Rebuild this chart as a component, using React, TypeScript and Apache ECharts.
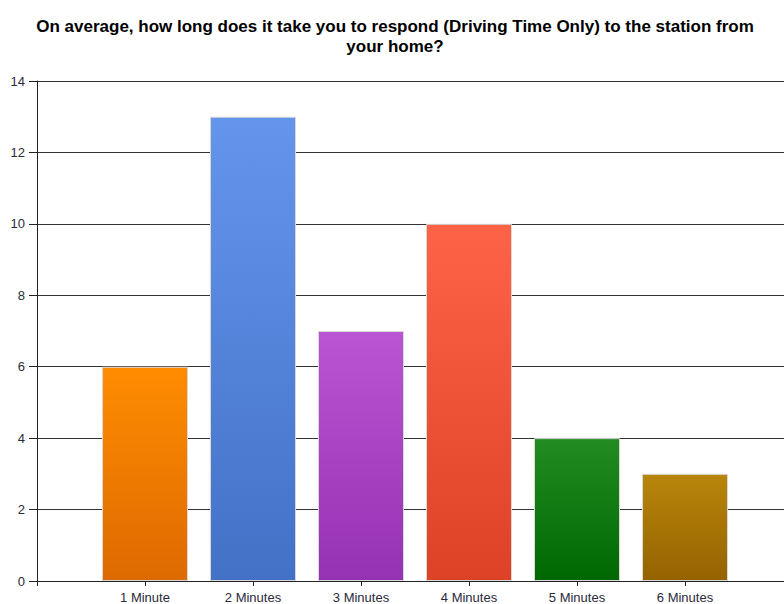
import React, { useEffect, useRef } from "react";
import * as echarts from "echarts";

const categories = ["1 Minute", "2 Minutes", "3 Minutes", "4 Minutes", "5 Minutes", "6 Minutes"];
const values = [6, 13, 7, 10, 4, 3];
const topColors = ["#FF8C00", "#6495ED", "#BA55D3", "#FF6347", "#228B22", "#B8860B"];
const bottomColors = ["#DD6A00", "#4371C6", "#9531B3", "#DD4226", "#006800", "#966200"];
const yTicks = { min: 0, max: 14, interval: 2 };
const titleText = "On average, how long does it take you to respond (Driving Time Only) to the station from\nyour home?";

export default function App() {
  const ref = useRef<HTMLDivElement>(null);
  useEffect(() => {
    if (!ref.current) return;
    const chart = echarts.init(ref.current, null, { renderer: "svg" });
    chart.setOption({
      animation: false,
      title: {
        text: titleText,
        left: 390,
        textAlign: "center",
        top: 11,
        textStyle: { fontFamily: "Liberation Sans", fontSize: 17, fontWeight: "bold", color: "#000", lineHeight: 20 },
      },
      grid: { left: 37, top: 81, right: 0, bottom: 23, containLabel: false },
      xAxis: {
        type: "value",
        min: 0,
        max: 747 / 108,
        interval: 1,
        axisLine: { show: true, lineStyle: { color: "#222", width: 1 } },
        axisTick: { show: true, length: 5, lineStyle: { color: "#222" } },
        splitLine: { show: false },
        axisLabel: {
          margin: 10,
          color: "#2a2a3a",
          fontFamily: "Liberation Sans",
          fontSize: 13,
          showMaxLabel: false,
          formatter: (v: number) => {
            const i = Math.round(v);
            return Math.abs(v - i) < 1e-6 && i >= 1 && i <= categories.length ? categories[i - 1] : "";
          },
        },
      },
      yAxis: {
        type: "value",
        min: yTicks.min,
        max: yTicks.max,
        interval: yTicks.interval,
        axisLine: { show: true, lineStyle: { color: "#222", width: 1 } },
        axisTick: { show: true, length: 8, lineStyle: { color: "#222" } },
        splitLine: { show: true, lineStyle: { color: "#333", width: 1 } },
        axisLabel: { margin: 12, color: "#2a2a3a", fontFamily: "Liberation Sans", fontSize: 13 },
      },
      series: [
        {
          type: "bar",
          barWidth: 86,
          data: values.map((v, i) => ({
            value: [i + 1, v],
            itemStyle: {
              color: new echarts.graphic.LinearGradient(0, 0, 0, 1, [
                { offset: 0, color: topColors[i] },
                { offset: 1, color: bottomColors[i] },
              ]),
              borderColor: "#d8d8d8",
              borderWidth: 1,
            },
          })),
        },
      ],
    });
    return () => chart.dispose();
  }, []);
  return <div ref={ref} style={{ width: 784, height: 604, position: "absolute", left: 0, top: 0 }} />;
}
